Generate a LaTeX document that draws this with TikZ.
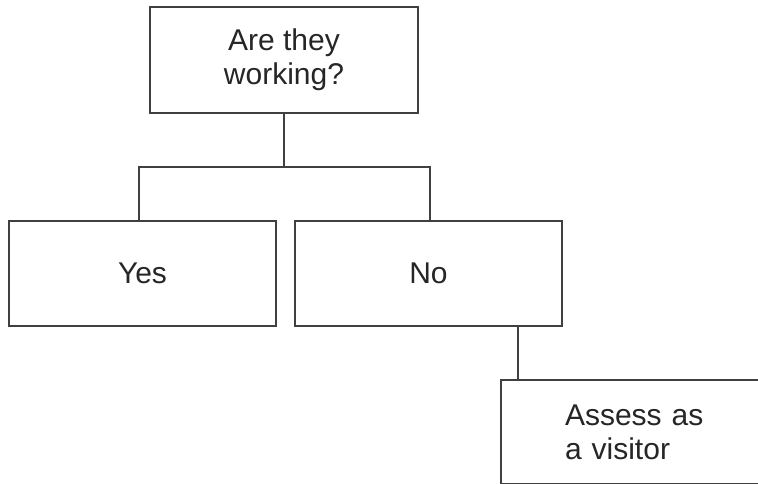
\documentclass[tikz,border=0pt]{standalone}
\usepackage{fontspec}
\setmainfont{Liberation Sans}
\definecolor{linegray}{HTML}{404040}
\definecolor{textgray}{HTML}{262626}
\begin{document}
\begin{tikzpicture}[x=1pt,y=-1pt,
  box/.style={draw=linegray, line width=1.8pt, fill=white, inner sep=0pt,
    font=\fontsize{30}{34}\selectfont, text=textgray, align=center},
  conn/.style={draw=linegray, line width=1.8pt}]
\useasboundingbox (0,0) rectangle (758,484);
\clip (0,0) rectangle (758,484);
\node[box, minimum width=268pt, minimum height=106pt] (top) at (284,60) {Are they\\working?};
\node[box, minimum width=267pt, minimum height=105pt] (yes) at (142.5,273.5) {Yes};
\node[box, minimum width=267pt, minimum height=105pt] (no) at (428.5,273.5) {No};
\node[box, minimum height=104pt, text width=272pt, inner xsep=64pt, align=left] (assess) at (701,432) {Assess as\\a visitor};
\coordinate (j) at (284,167);
\coordinate (yl) at (139,221);
\coordinate (nl) at (430,221);
\coordinate (nb) at (518,326);
\draw[conn] (top.south) -- (j);
\draw[conn] (yl) |- (j) -| (nl);
\draw[conn] (nb) -- (nb |- assess.north);
\end{tikzpicture}
\end{document}
